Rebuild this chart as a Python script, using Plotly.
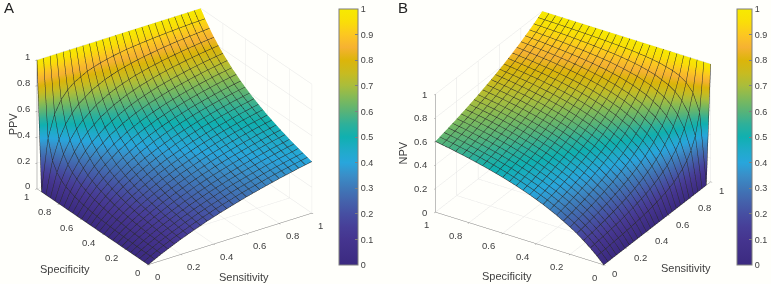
import numpy as np
import plotly.graph_objects as go

tick_vals = [0, 0.2, 0.4, 0.6, 0.8, 1]
cbar_vals = [0, 0.1, 0.2, 0.3, 0.4, 0.5, 0.6, 0.7, 0.8, 0.9, 1]
cbar_text = ["0", "0.1", "0.2", "0.3", "0.4", "0.5", "0.6", "0.7", "0.8", "0.9", "1"]
axis_ticks = ["0", "0.2", "0.4", "0.6", "0.8", "1"]

# Panel A: rows follow specificity, columns follow sensitivity
ppv_sens = [0, .04, .08, .12, .16, .2, .28, .36, .44, .52, .6, .7, .8, .9, 1]
ppv_spec = [0, .1, .2, .3, .4, .48, .56, .64, .72, .8, .84, .88, .92, .96, 1]
ppv = [
    [0, .026, .051, .074, .096, .118, .157, .194, .227, .257, .286, .318, .348, .375, .4],
    [0, .029, .056, .082, .106, .129, .172, .211, .246, .278, .308, .341, .372, .4, .426],
    [0, .032, .063, .091, .118, .143, .189, .231, .268, .302, .333, .368, .4, .429, .455],
    [0, .037, .071, .103, .132, .16, .211, .255, .295, .331, .364, .4, .432, .462, .488],
    [0, .043, .082, .118, .151, .182, .237, .286, .328, .366, .4, .438, .471, .5, .526],
    [0, .049, .093, .133, .17, .204, .264, .316, .361, .4, .435, .473, .506, .536, .562],
    [0, .057, .108, .154, .195, .233, .298, .353, .4, .441, .476, .515, .548, .577, .602],
    [0, .069, .129, .182, .229, .27, .341, .4, .449, .491, .526, .565, .597, .625, .649],
    [0, .087, .16, .222, .276, .323, .4, .462, .512, .553, .588, .625, .656, .682, .704],
    [0, .118, .211, .286, .348, .4, .483, .545, .595, .634, .667, .7, .727, .75, .769],
    [0, .143, .25, .333, .4, .455, .538, .6, .647, .684, .714, .745, .769, .789, .806],
    [0, .182, .308, .4, .471, .526, .609, .667, .71, .743, .769, .795, .816, .833, .847],
    [0, .25, .4, .5, .571, .625, .7, .75, .786, .813, .833, .854, .87, .882, .893],
    [0, .4, .571, .667, .727, .769, .824, .857, .88, .897, .909, .921, .93, .938, .943],
    [1, 1, 1, 1, 1, 1, 1, 1, 1, 1, 1, 1, 1, 1, 1],
]

# Panel B: rows follow sensitivity, columns follow specificity
npv_sens = [0, .1, .2, .3, .4, .48, .56, .64, .72, .8, .84, .88, .92, .96, 1]
npv_spec = [0, .04, .08, .12, .16, .2, .28, .36, .44, .52, .6, .7, .8, .9, 1]
npv = [
    [0, .057, .107, .153, .194, .231, .296, .351, .398, .438, .474, .512, .545, .574, .6],
    [0, .063, .118, .167, .211, .25, .318, .375, .423, .464, .5, .538, .571, .6, .625],
    [0, .07, .13, .184, .231, .273, .344, .403, .452, .494, .529, .568, .6, .628, .652],
    [0, .079, .146, .205, .255, .3, .375, .435, .485, .527, .562, .6, .632, .659, .682],
    [0, .091, .167, .231, .286, .333, .412, .474, .524, .565, .6, .636, .667, .692, .714],
    [0, .103, .187, .257, .316, .366, .447, .509, .559, .6, .634, .669, .698, .722, .743],
    [0, .12, .214, .29, .353, .405, .488, .551, .6, .639, .672, .705, .732, .754, .773],
    [0, .143, .25, .333, .4, .455, .538, .6, .647, .684, .714, .745, .769, .789, .806],
    [0, .176, .3, .391, .462, .517, .6, .659, .702, .736, .763, .789, .811, .828, .843],
    [0, .231, .375, .474, .545, .6, .677, .73, .767, .796, .818, .84, .857, .871, .882],
    [0, .273, .429, .529, .6, .652, .724, .771, .805, .83, .849, .868, .882, .894, .904],
    [0, .333, .5, .6, .667, .714, .778, .818, .846, .867, .882, .897, .909, .918, .926],
    [0, .429, .6, .692, .75, .789, .84, .871, .892, .907, .918, .929, .938, .944, .949],
    [0, .6, .75, .818, .857, .882, .913, .931, .943, .951, .957, .963, .968, .971, .974],
    [1, 1, 1, 1, 1, 1, 1, 1, 1, 1, 1, 1, 1, 1, 1],
]

colorscale = [
    [0, "#3b2a80"], [.1, "#45358f"], [.15, "#473f98"], [.2, "#464fa2"], [.25, "#4463ac"],
    [.3, "#3f78b8"], [.35, "#3a8ec8"], [.4, "#28a6dc"], [.45, "#1fabc8"], [.5, "#10b0b0"],
    [.55, "#2eb09a"], [.6, "#58b378"], [.65, "#7fb95a"], [.7, "#a9bd3c"], [.75, "#c8bb20"],
    [.8, "#dcb50a"], [.85, "#f6b232"], [.9, "#fcc721"], [.95, "#fade08"], [1, "#f7ea00"],
]

INK = "#404040"
BG = "#fffffb"
GRID = "#e4e4e4"
AXIS = "#7f7f7f"
mesh = dict(show=True, start=0, end=1, size=0.04, color="#2a2a2a", width=1)
flat = dict(ambient=1, diffuse=0, specular=0, roughness=1, fresnel=0)


def surface(x, y, z, bar_x, bar_w, scene_id):
    return go.Surface(
        x=x, y=y, z=z, cmin=0, cmax=1, colorscale=colorscale, lighting=flat, scene=scene_id,
        contours=dict(x=mesh, y=mesh),
        hoverinfo="skip",
        colorbar=dict(
            x=bar_x, xanchor="left", y=1 - 265 / 284, yanchor="bottom",
            len=256 / 284, lenmode="fraction", thickness=bar_w, thicknessmode="pixels",
            tickvals=cbar_vals, ticktext=cbar_text, ticks="inside", ticklen=3,
            tickcolor=AXIS, tickfont=dict(family="Liberation Sans", size=9, color=INK),
            outlinecolor=AXIS, outlinewidth=1, borderwidth=0, xpad=0, ypad=0,
        ),
    )


def axis():
    return dict(
        title=dict(text=""),
        range=[0, 1], tickvals=tick_vals, showticklabels=False,
        showgrid=True, gridcolor=GRID, gridwidth=1, showbackground=False,
        showline=True, linecolor=AXIS, linewidth=1, ticks="outside", ticklen=2,
        tickcolor=AXIS, zeroline=False, showspikes=False,
    )


def label(text, x, y, z, xshift=0, yshift=0, angle=0, size=9.5):
    return dict(text=text, x=x, y=y, z=z, showarrow=False, xshift=xshift, yshift=yshift,
                textangle=angle, font=dict(family="Liberation Sans", size=size, color=INK))


def tick_labels(x_shift, y_shift, z_shift):
    out = []
    for i, (v, t) in enumerate(zip(tick_vals, axis_ticks)):
        end = i == 0 or i == len(tick_vals) - 1
        out.append(label(t, v, 0, 0, x_shift[1 if end else 0], -x_shift[2]))
        out.append(label(t, 0, v, 0, y_shift[1 if end else 0], -y_shift[2]))
        out.append(label(t, 0, 1, v, z_shift[1 if end else 0], -z_shift[2]))
    return out


def scene(domain_x, domain_y, eye, k, az, labels):
    return dict(
        domain=dict(x=domain_x, y=domain_y),
        xaxis=axis(), yaxis=axis(), zaxis=axis(),
        aspectmode="manual", aspectratio=dict(x=k, y=k, z=k * az),
        camera=dict(eye=eye, up=dict(x=0, y=0, z=1), center=dict(x=0, y=0, z=0),
                    projection=dict(type="orthographic")),
        bgcolor=BG, annotations=labels,
    )


fig = go.Figure()
fig.add_trace(surface(ppv_sens, ppv_spec, ppv, 339 / 771, 19, "scene"))
fig.add_trace(surface(npv_sens, npv_spec, np.array(npv).T.tolist(), 737 / 771, 15, "scene2"))

D = 1.7
fig.update_layout(
    width=771, height=284, margin=dict(l=0, r=0, t=0, b=0), paper_bgcolor=BG,
    showlegend=False,
    scene=scene([0, 349 / 771], [1 - 273 / 284, 1],
                dict(x=-.498 * D, y=-.733 * D, z=.4635 * D), 1.45, .735,
                tick_labels((13, 9, 12), (-15, -11, 8), (-14, -10, -3)) +
                [label("Sensitivity", .5, 0, 0, 13.5, -38, size=11),
                 label("Specificity", 0, .5, 0, -28, -42.5, size=11),
                 label("PPV", 0, 1, .5, -24, 0, -90, size=11)]),
    scene2=scene([386 / 771, 760 / 771], [1 - 276 / 284, 1],
                 dict(x=-.734 * D, y=-.466 * D, z=.493 * D), 1.445, .68,
                 tick_labels((15, 11, 9), (-14, -9, 12.5), (-15, -11, 0)) +
                 [label("Sensitivity", .5, 0, 0, 28.5, -44.5, size=11),
                  label("Specificity", 0, .5, 0, -12.5, -38, size=11),
                  label("NPV", 0, 1, .5, -32, 0, -90, size=11)]),
    annotations=[
        dict(text="A", x=2 / 771, y=1 - 8 / 284, xref="paper", yref="paper", xanchor="left",
             yanchor="middle", showarrow=False, font=dict(family="Liberation Sans", size=15, color="#222")),
        dict(text="B", x=396 / 771, y=1 - 8 / 284, xref="paper", yref="paper", xanchor="left",
             yanchor="middle", showarrow=False, font=dict(family="Liberation Sans", size=15, color="#222")),
    ],
)
fig.write_html("out.html", post_script="document.body.style.margin='0';",
               config={"displayModeBar": False})
